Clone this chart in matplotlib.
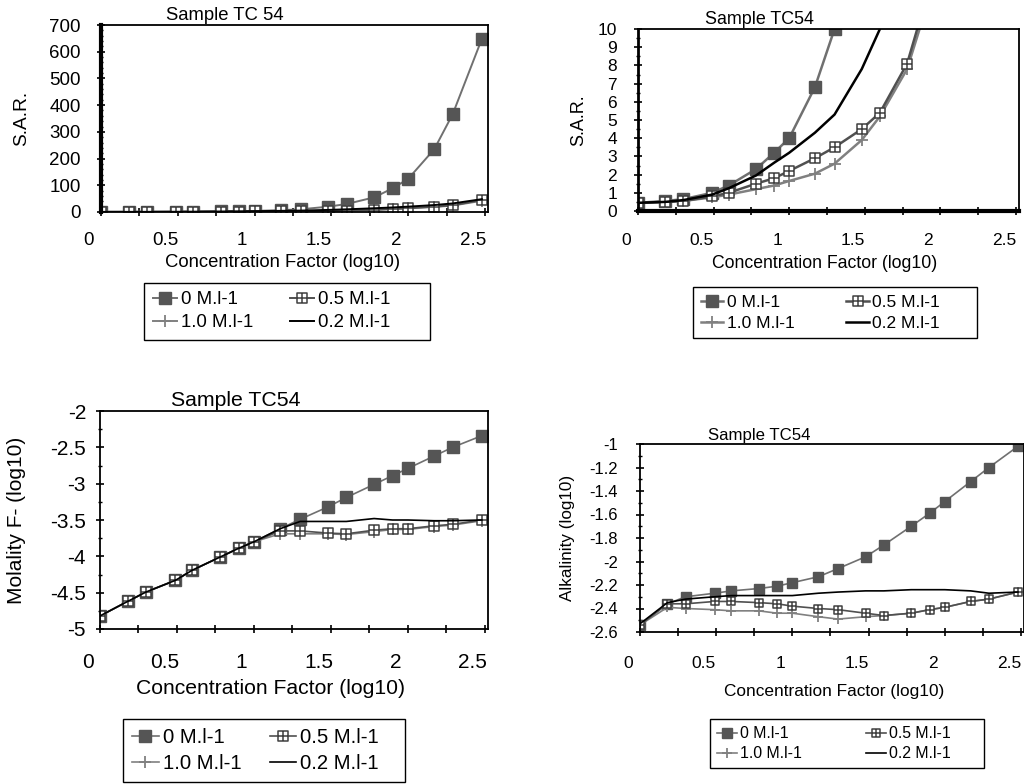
import numpy as np
import matplotlib
matplotlib.use("Agg")
import matplotlib.pyplot as plt
from matplotlib.path import Path
from matplotlib import transforms

plt.rcParams['font.family'] = ['Liberation Sans', 'DejaVu Sans']
plt.rcParams['axes.unicode_minus'] = False

# concentration factor (log10) of each evaporation step
cf = [0.08, 0.26, 0.38, 0.57, 0.68, 0.86, 0.98, 1.08, 1.25, 1.38,
      1.56, 1.68, 1.86, 1.98, 2.08, 2.25, 2.37, 2.56]

# S.A.R.
sar_0 = [0.45, 0.55, 0.65, 1.0, 1.4, 2.3, 3.2, 4.0, 6.8, 10.0,
         20, 30, 55, 89, 124, 235, 366, 648]
sar_05 = [0.45, 0.5, 0.55, 0.8, 1.0, 1.5, 1.8, 2.2, 2.9, 3.5,
          4.5, 5.4, 8.1, 11.5, 14, 20, 25, 45]
sar_10 = [0.45, 0.5, 0.55, 0.75, 0.9, 1.2, 1.4, 1.65, 2.05, 2.6,
          3.9, 5.2, 7.8, 11, 14, 19, 24, 42]
sar_02 = [0.45, 0.5, 0.6, 0.9, 1.25, 1.95, 2.65, 3.2, 4.3, 5.3,
          7.8, 10.0, 14, 17, 20, 26, 32, 48]

# Molality F- (log10)
f_0 = [-4.82, -4.62, -4.49, -4.33, -4.19, -4.01, -3.89, -3.80, -3.62, -3.49,
       -3.32, -3.19, -3.01, -2.89, -2.79, -2.62, -2.50, -2.34]
f_05 = [-4.82, -4.62, -4.49, -4.33, -4.19, -4.01, -3.89, -3.80, -3.65, -3.65,
        -3.68, -3.69, -3.64, -3.62, -3.62, -3.58, -3.56, -3.50]
f_10 = [-4.82, -4.62, -4.49, -4.33, -4.19, -4.01, -3.89, -3.80, -3.69, -3.69,
        -3.69, -3.70, -3.66, -3.63, -3.63, -3.59, -3.57, -3.51]
f_02 = [-4.82, -4.62, -4.49, -4.33, -4.19, -4.01, -3.89, -3.80, -3.62, -3.52,
        -3.52, -3.52, -3.48, -3.50, -3.50, -3.51, -3.51, -3.50]

# Alkalinity (log10)
alk_0 = [-2.54, -2.36, -2.30, -2.27, -2.25, -2.23, -2.21, -2.18, -2.13, -2.06,
         -1.96, -1.86, -1.70, -1.59, -1.49, -1.32, -1.20, -1.02]
alk_05 = [-2.54, -2.36, -2.36, -2.34, -2.34, -2.35, -2.36, -2.38, -2.40, -2.41,
          -2.44, -2.46, -2.44, -2.41, -2.39, -2.34, -2.32, -2.26]
alk_10 = [-2.54, -2.39, -2.40, -2.41, -2.42, -2.42, -2.44, -2.44, -2.47, -2.49,
          -2.47, -2.46, -2.44, -2.41, -2.39, -2.34, -2.32, -2.26]
alk_02 = [-2.53, -2.35, -2.32, -2.30, -2.29, -2.29, -2.29, -2.29, -2.27, -2.26,
          -2.25, -2.25, -2.24, -2.24, -2.24, -2.25, -2.27, -2.26]

xtick_labels = ["0", "0.5", "1", "1.5", "2", "2.5"]
xtick_vals = [0, 0.5, 1, 1.5, 2, 2.5]
series_names = ["0 M.l-1", "0.5 M.l-1", "1.0 M.l-1", "0.2 M.l-1"]

# square with a cross, like the excel marker
boxplus = Path([(-1, -1), (1, -1), (1, 1), (-1, 1), (-1, -1), (0, -1), (0, 1), (-1, 0), (1, 0)],
               [Path.MOVETO, Path.LINETO, Path.LINETO, Path.LINETO, Path.CLOSEPOLY,
                Path.MOVETO, Path.LINETO, Path.MOVETO, Path.LINETO])

W, H = 1024, 784
fig = plt.figure(figsize=(W / 100, H / 100), dpi=100)


def px_axes(l, t, r, b):
    return fig.add_axes([l / W, 1 - b / H, (r - l) / W, (b - t) / H])


def draw_panel(ax, ys, ylim, ymaj, ymin, fs, pad, ms, lw):
    y0, y05, y10, y02 = ys
    h0, = ax.plot(cf, y0, color='#707070', lw=lw, marker='s', ms=ms,
                  mfc='#555555', mec='#555555', label=series_names[0])
    h10, = ax.plot(cf, y10, color='#808080', lw=lw, marker='+', ms=ms, mew=1.3,
                   label=series_names[2])
    h05, = ax.plot(cf, y05, color='#505050', lw=lw, marker=boxplus, ms=ms * 0.8,
                   mfc='white', mec='#404040', mew=1.1, label=series_names[1])
    h02, = ax.plot(cf, y02, color='black', lw=lw, label=series_names[3])
    ax.set_xlim(0.08, 2.6)
    ax.set_ylim(*ylim)
    ax.set_xticks(np.arange(0.08, 2.6, 0.25))
    ax.set_xticklabels([])
    ax.set_yticks(np.arange(ylim[0], ylim[1] + ymaj / 2, ymaj))
    ax.set_yticks(np.arange(ylim[0], ylim[1] + ymin / 2, ymin), minor=True)
    ax.tick_params(axis='both', which='major', direction='inout', length=6, width=1.2,
                   labelsize=fs, pad=pad)
    ax.tick_params(axis='y', which='minor', direction='inout', length=3, width=1)
    ax.yaxis.set_major_formatter(matplotlib.ticker.FormatStrFormatter('%g'))
    for s in ax.spines.values():
        s.set_linewidth(1.3)
    return [h0, h10, h05, h02]


def x_labels(ax, yoff, fs):
    tr = transforms.blended_transform_factory(ax.transData, ax.transAxes)
    for v, lab in zip(xtick_vals, xtick_labels):
        ax.text(v, yoff, lab, transform=tr, ha='center', va='center', fontsize=fs, clip_on=False)


def labels(ax, ylab, yfs, yx, xfs, xx, xy, title, tfs, tx, ty):
    ax.set_ylabel(ylab, fontsize=yfs)
    ax.yaxis.label.set_va('center')
    ax.yaxis.set_label_coords(yx, 0.5)
    ax.set_xlabel("Concentration Factor (log10)", fontsize=xfs)
    ax.xaxis.label.set_va('center')
    ax.xaxis.set_label_coords(xx, xy)
    ax.text(tx, ty, title, transform=ax.transAxes, ha='center', va='center', fontsize=tfs)


def legend(ax, handles, cx, top, fs, colsp, nsp):
    labs = [h.get_label() for h in handles]
    labs = labs[:2] + [s + " " * nsp for s in labs[2:]]
    fig.legend(handles, labs, ncol=2, loc='upper center',
               bbox_to_anchor=(cx / W, 1 - top / H), borderaxespad=0, frameon=True,
               fancybox=False, edgecolor='black', framealpha=1, fontsize=fs,
               handlelength=1.3, handletextpad=0.2, columnspacing=colsp, borderpad=0.45,
               labelspacing=0.32)


# top left: S.A.R. full range
ax1 = px_axes(101, 25, 488, 212)
hs = draw_panel(ax1, [sar_0, sar_05, sar_10, sar_02], (0, 700), 100, 20, 13.5, 11.5, 8.5, 1.4)
ax1.spines['left'].set_linewidth(3)
x_labels(ax1, -0.15, 13.5)
labels(ax1, "S.A.R.", 13.8, -0.205, 13.3, 0.47, -0.27, "Sample TC 54", 13.3, 0.32, 1.05)
legend(ax1, hs, 287, 283, 13.4, 2.0, 6)

# top right: S.A.R. zoomed
ax2 = px_axes(638, 29, 1019, 211)
hs = draw_panel(ax2, [sar_0, sar_05, sar_10, sar_02], (0, 10), 1, 0.5, 12.5, 12, 8.5, 1.8)
ax2.spines['bottom'].set_linewidth(3)
ax2.spines['left'].set_linewidth(2)
x_labels(ax2, -0.16, 12.5)
labels(ax2, "S.A.R.", 13, -0.155, 12.7, 0.49, -0.286, "Sample TC54", 12.9, 0.32, 1.05)
legend(ax2, hs, 835, 287, 12.5, 3.0, 6)

# bottom left: fluoride
ax3 = px_axes(100, 411, 488, 629)
hs = draw_panel(ax3, [f_0, f_05, f_10, f_02], (-5, -2), 0.5, 0.25, 15, 7, 8.5, 1.2)
x_labels(ax3, -0.155, 15)
labels(ax3, "Molality F- (log10)", 15, -0.214, 15.2, 0.44, -0.275, "Sample TC54", 15.3, 0.35, 1.05)
legend(ax3, hs, 264, 719, 14.6, 1.4, 3)

# bottom right: alkalinity
ax4 = px_axes(640, 444, 1024, 632)
hs = draw_panel(ax4, [alk_0, alk_05, alk_10, alk_02], (-2.6, -1.0), 0.2, 0.1, 12, 13, 7, 1.2)
x_labels(ax4, -0.165, 12.5)
labels(ax4, "Alkalinity (log10)", 12.3, -0.19, 12.4, 0.505, -0.314, "Sample TC54", 12.1, 0.31, 1.045)
legend(ax4, hs, 847, 719, 11.4, 4.0, 6)

fig.savefig("out.png", dpi=100)
